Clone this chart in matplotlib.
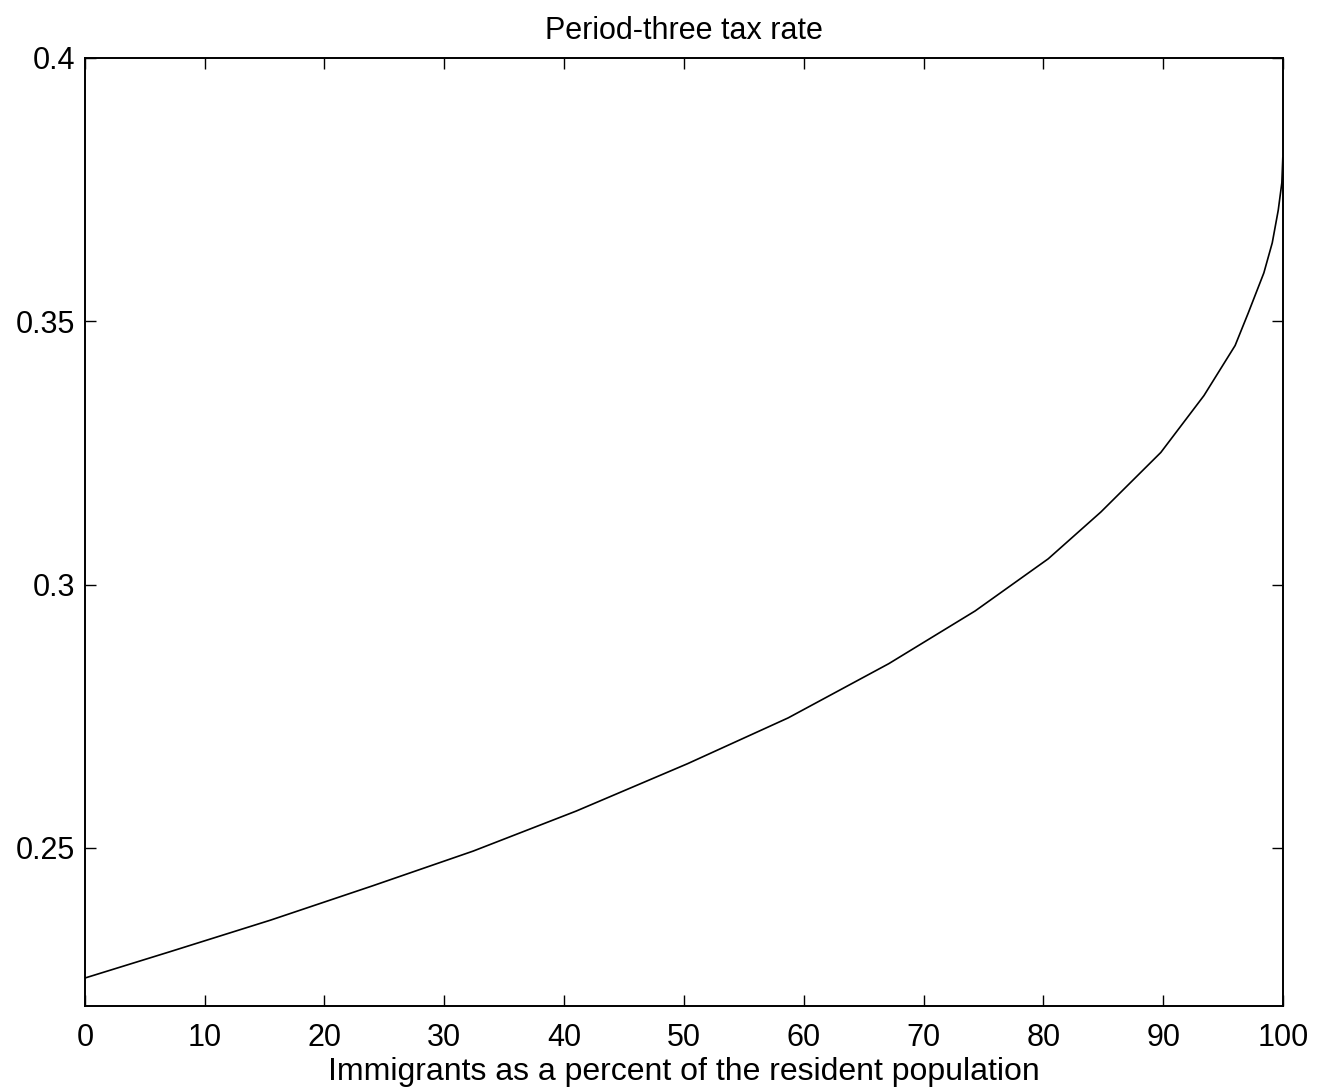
import matplotlib
matplotlib.use("Agg")
import matplotlib.pyplot as plt

plt.rcParams['font.family'] = ['Liberation Sans', 'DejaVu Sans']

# Data
immigrants_pct = [0, 7.1, 15.5, 24.0, 32.4, 41.0, 50.3, 58.7, 67.1, 74.3,
                  80.4, 84.8, 89.8, 93.4, 96.0, 97.1, 98.4, 99.1, 99.6,
                  99.9, 99.98]
tax_rate = [0.2253, 0.2303, 0.2363, 0.2428, 0.2494, 0.2570, 0.2660, 0.2747,
            0.2850, 0.2950, 0.3049, 0.3138, 0.3251, 0.3359, 0.3454, 0.3516,
            0.3592, 0.3649, 0.3711, 0.3763, 0.3810]

x_ticks = [0, 10, 20, 30, 40, 50, 60, 70, 80, 90, 100]
y_ticks = [0.25, 0.3, 0.35, 0.4]
y_tick_labels = ["0.25", "0.3", "0.35", "0.4"]

fig = plt.figure(figsize=(13.26, 10.90), dpi=100)
ax = fig.add_axes([0.064, 0.0771, 0.9036, 0.8697])

ax.plot(immigrants_pct, tax_rate, color='black', linewidth=1.2)

ax.set_xlim(0, 100)
ax.set_ylim(0.22, 0.4)
ax.set_xticks(x_ticks)
ax.set_xticklabels([str(v) for v in x_ticks])
ax.set_yticks(y_ticks)
ax.set_yticklabels(y_tick_labels)

ax.tick_params(direction='in', length=8, width=1.0, top=True, right=True,
               labelsize=22, colors='black')
ax.tick_params(axis='x', pad=12)
ax.tick_params(axis='y', pad=7)
for s in ax.spines.values():
    s.set_linewidth(1.4)
    s.set_color('black')

ax.set_title("Period-three tax rate", fontsize=22, pad=14)
ax.set_xlabel("Immigrants as a percent of the resident population", fontsize=23, labelpad=3)

fig.savefig("out.png", dpi=100, facecolor='white')
